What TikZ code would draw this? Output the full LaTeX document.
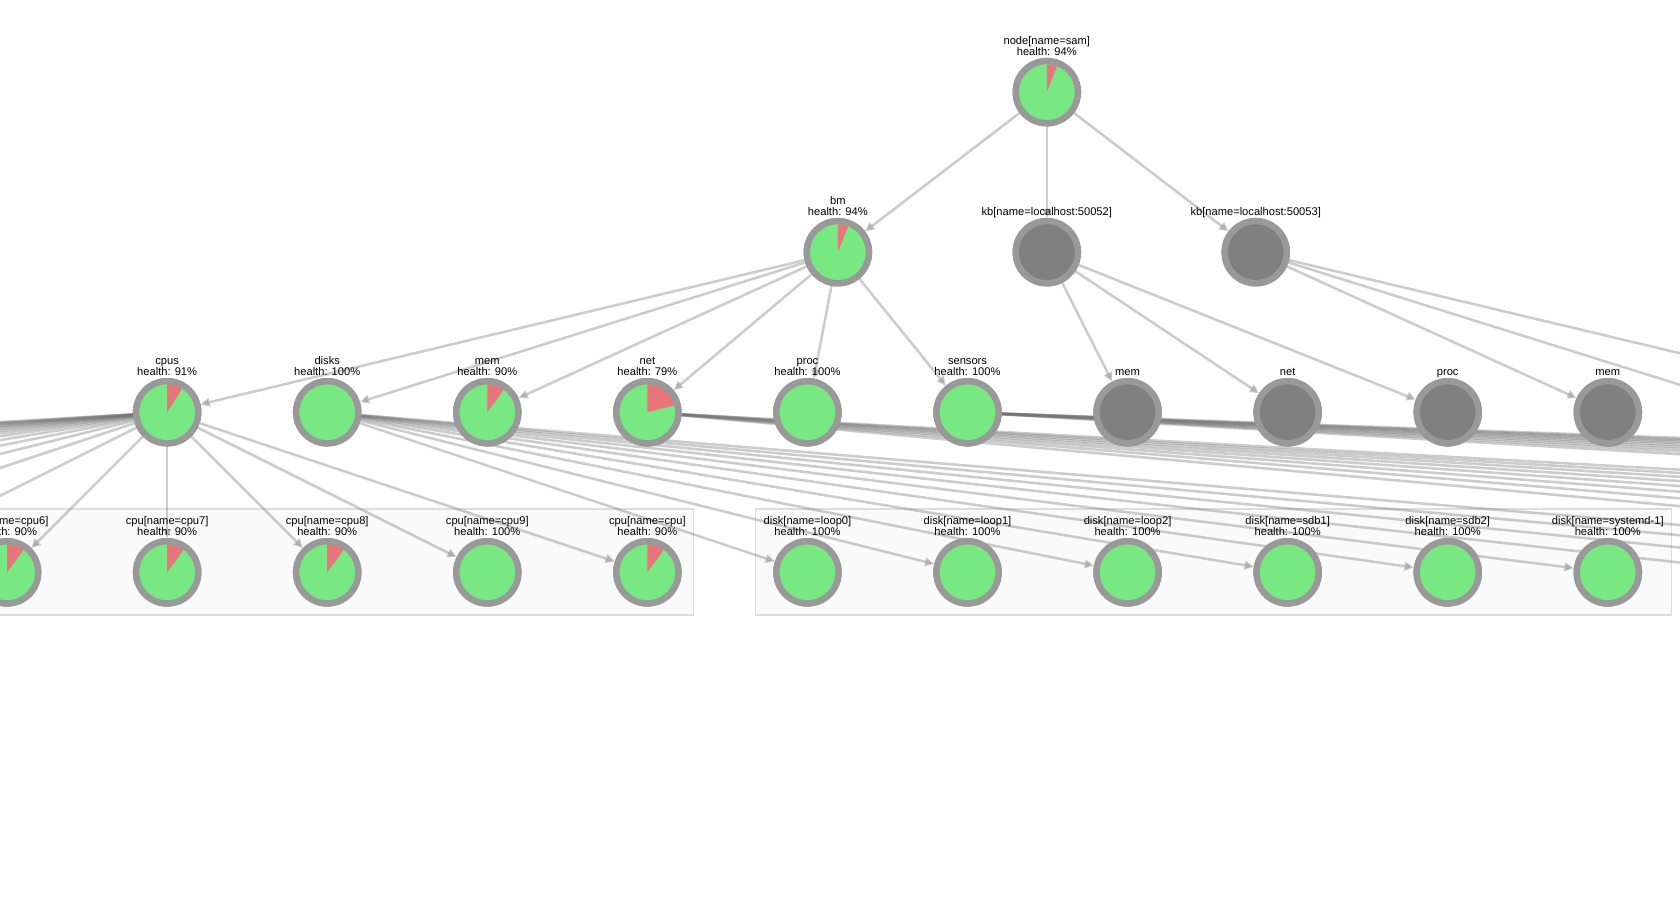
\documentclass[tikz,border=0pt]{standalone}
\usepackage{fontspec}
\setmainfont{Liberation Sans}
\usetikzlibrary{arrows.meta}
\definecolor{ringgray}{HTML}{999999}
\definecolor{okgreen}{HTML}{77E882}
\definecolor{badred}{HTML}{E8747C}
\definecolor{kbinner}{HTML}{808080}
\definecolor{boxfill}{HTML}{FAFAFA}
\definecolor{boxline}{HTML}{DDDDDD}
\newcommand\lblfont{\fontsize{7.8}{7.9}\selectfont}
\newcommand\wedgeat[2]{\fill[badred] (#1.center) -- ++(90:19.5pt) arc[start angle=90, end angle={90-#2}, radius=19.5pt] -- cycle;}
\begin{document}
\begin{tikzpicture}[x=0.75pt,y=-0.75pt,
  hn/.style={circle, minimum size=43.5pt, inner sep=0pt, outer sep=2.25pt, draw=ringgray, line width=4.5pt, fill=okgreen},
  kbn/.style={hn, fill=kbinner},
  lbl/.style={font=\lblfont, align=center, inner sep=0pt, text depth=0pt, anchor=south},
  edge/.style={draw=black!55, opacity=0.36, line width=1.8pt, -{Triangle[length=6.5pt,width=6pt]}},
  grp/.style={draw=boxline, fill=boxfill, line width=0.8pt}]
\useasboundingbox (0,0) rectangle (1568,838);
\clip (0,0) rectangle (1568,838);
% group boxes
\path[grp] (-3000,475) rectangle (647,574);
\path[grp] (705,475) rectangle (1560,574);
% nodes
\node[hn] (sam) at (977,86) {};
\node[hn] (bm) at (782,235.4) {};
\node[kbn] (kb1) at (977,235.4) {};
\node[kbn] (kb2) at (1172,235.4) {};
\node[hn] (cpus) at (156,384.8) {};
\node[hn] (disks) at (305.4,384.8) {};
\node[hn] (mem) at (454.8,384.8) {};
\node[hn] (net) at (604.2,384.8) {};
\node[hn] (proc) at (753.6,384.8) {};
\node[hn] (sensors) at (903,384.8) {};
\node[kbn] (memb) at (1052.4,384.8) {};
\node[kbn] (netb) at (1201.8,384.8) {};
\node[kbn] (procb) at (1351.2,384.8) {};
\node[kbn] (memc) at (1500.6,384.8) {};
\node[hn] (cpu6) at (6.6,534.2) {};
\node[hn] (cpu7) at (156,534.2) {};
\node[hn] (cpu8) at (305.4,534.2) {};
\node[hn] (cpu9) at (454.8,534.2) {};
\node[hn] (cpu) at (604.2,534.2) {};
\node[hn] (loop0) at (753.6,534.2) {};
\node[hn] (loop1) at (903,534.2) {};
\node[hn] (loop2) at (1052.4,534.2) {};
\node[hn] (sdb1) at (1201.8,534.2) {};
\node[hn] (sdb2) at (1351.2,534.2) {};
\node[hn] (sysd) at (1500.6,534.2) {};
% off-picture targets
\coordinate (kbx1) at (1650,384.8);
\coordinate (kbx2) at (1799.4,384.8);
\foreach \k in {1,...,16} {\coordinate (cl\k) at ({6.6-149.4*\k},534.2);}
\foreach \k in {1,...,4} {\coordinate (dr\k) at ({1500.6+149.4*\k},534.2);}
\foreach \k in {0,...,7} {\coordinate (nr\k) at ({2247.6+149.4*\k},534.2);}
\foreach \k in {0,...,9} {\coordinate (sr\k) at ({3442.8+180*\k},534.2);}
% edges
\draw[edge] (sam) -- (bm);
\draw[edge] (sam) -- (kb1);
\draw[edge] (sam) -- (kb2);
\foreach \t in {cpus,disks,mem,net,proc,sensors} {\draw[edge] (bm) -- (\t);}
\foreach \t in {memb,netb,procb} {\draw[edge] (kb1) -- (\t);}
\foreach \t in {memc,kbx1,kbx2} {\draw[edge] (kb2) -- (\t);}
\foreach \t in {cpu6,cpu7,cpu8,cpu9,cpu} {\draw[edge] (cpus) -- (\t);}
\foreach \k in {1,...,16} {\draw[edge] (cpus) -- (cl\k);}
\foreach \t in {loop0,loop1,loop2,sdb1,sdb2,sysd} {\draw[edge] (disks) -- (\t);}
\foreach \k in {1,...,4} {\draw[edge] (disks) -- (dr\k);}
\foreach \k in {0,...,7} {\draw[edge] (net) -- (nr\k);}
\foreach \k in {0,...,9} {\draw[edge] (sensors) -- (sr\k);}
% redraw nodes on top of edges
\foreach \n/\s in {sam/hn,bm/hn,kb1/kbn,kb2/kbn,cpus/hn,disks/hn,mem/hn,net/hn,proc/hn,sensors/hn,memb/kbn,netb/kbn,procb/kbn,memc/kbn,cpu6/hn,cpu7/hn,cpu8/hn,cpu9/hn,cpu/hn,loop0/hn,loop1/hn,loop2/hn,sdb1/hn,sdb2/hn,sysd/hn}
  {\node[\s] (\n-top) at (\n.center) {};}
% health wedges
\wedgeat{sam}{21.6}
\wedgeat{bm}{21.6}
\wedgeat{cpus}{32.4}
\wedgeat{mem}{36}
\wedgeat{net}{75.6}
\wedgeat{cpu6}{36}
\wedgeat{cpu7}{36}
\wedgeat{cpu8}{36}
\wedgeat{cpu}{36}
% labels
\node[lbl] (sam-l) at ([yshift=1.5pt]sam.north) {node[name=sam]\\health: 94\%};
\node[lbl] (bm-l) at ([yshift=1.5pt]bm.north) {bm\\health: 94\%};
\node[lbl] (kb1-l) at ([yshift=1.5pt]kb1.north) {kb[name=localhost:50052]};
\node[lbl] (kb2-l) at ([yshift=1.5pt]kb2.north) {kb[name=localhost:50053]};
\node[lbl] (cpus-l) at ([yshift=1.5pt]cpus.north) {cpus\\health: 91\%};
\node[lbl] (disks-l) at ([yshift=1.5pt]disks.north) {disks\\health: 100\%};
\node[lbl] (mem-l) at ([yshift=1.5pt]mem.north) {mem\\health: 90\%};
\node[lbl] (net-l) at ([yshift=1.5pt]net.north) {net\\health: 79\%};
\node[lbl] (proc-l) at ([yshift=1.5pt]proc.north) {proc\\health: 100\%};
\node[lbl] (sensors-l) at ([yshift=1.5pt]sensors.north) {sensors\\health: 100\%};
\node[lbl] (memb-l) at ([yshift=1.5pt]memb.north) {mem};
\node[lbl] (netb-l) at ([yshift=1.5pt]netb.north) {net};
\node[lbl] (procb-l) at ([yshift=1.5pt]procb.north) {proc};
\node[lbl] (memc-l) at ([yshift=1.5pt]memc.north) {mem};
\node[lbl] (cpu6-l) at ([yshift=1.5pt]cpu6.north) {cpu[name=cpu6]\\health: 90\%};
\node[lbl] (cpu7-l) at ([yshift=1.5pt]cpu7.north) {cpu[name=cpu7]\\health: 90\%};
\node[lbl] (cpu8-l) at ([yshift=1.5pt]cpu8.north) {cpu[name=cpu8]\\health: 90\%};
\node[lbl] (cpu9-l) at ([yshift=1.5pt]cpu9.north) {cpu[name=cpu9]\\health: 100\%};
\node[lbl] (cpu-l) at ([yshift=1.5pt]cpu.north) {cpu[name=cpu]\\health: 90\%};
\node[lbl] (loop0-l) at ([yshift=1.5pt]loop0.north) {disk[name=loop0]\\health: 100\%};
\node[lbl] (loop1-l) at ([yshift=1.5pt]loop1.north) {disk[name=loop1]\\health: 100\%};
\node[lbl] (loop2-l) at ([yshift=1.5pt]loop2.north) {disk[name=loop2]\\health: 100\%};
\node[lbl] (sdb1-l) at ([yshift=1.5pt]sdb1.north) {disk[name=sdb1]\\health: 100\%};
\node[lbl] (sdb2-l) at ([yshift=1.5pt]sdb2.north) {disk[name=sdb2]\\health: 100\%};
\node[lbl] (sysd-l) at ([yshift=1.5pt]sysd.north) {disk[name=systemd-1]\\health: 100\%};
\end{tikzpicture}
\end{document}
